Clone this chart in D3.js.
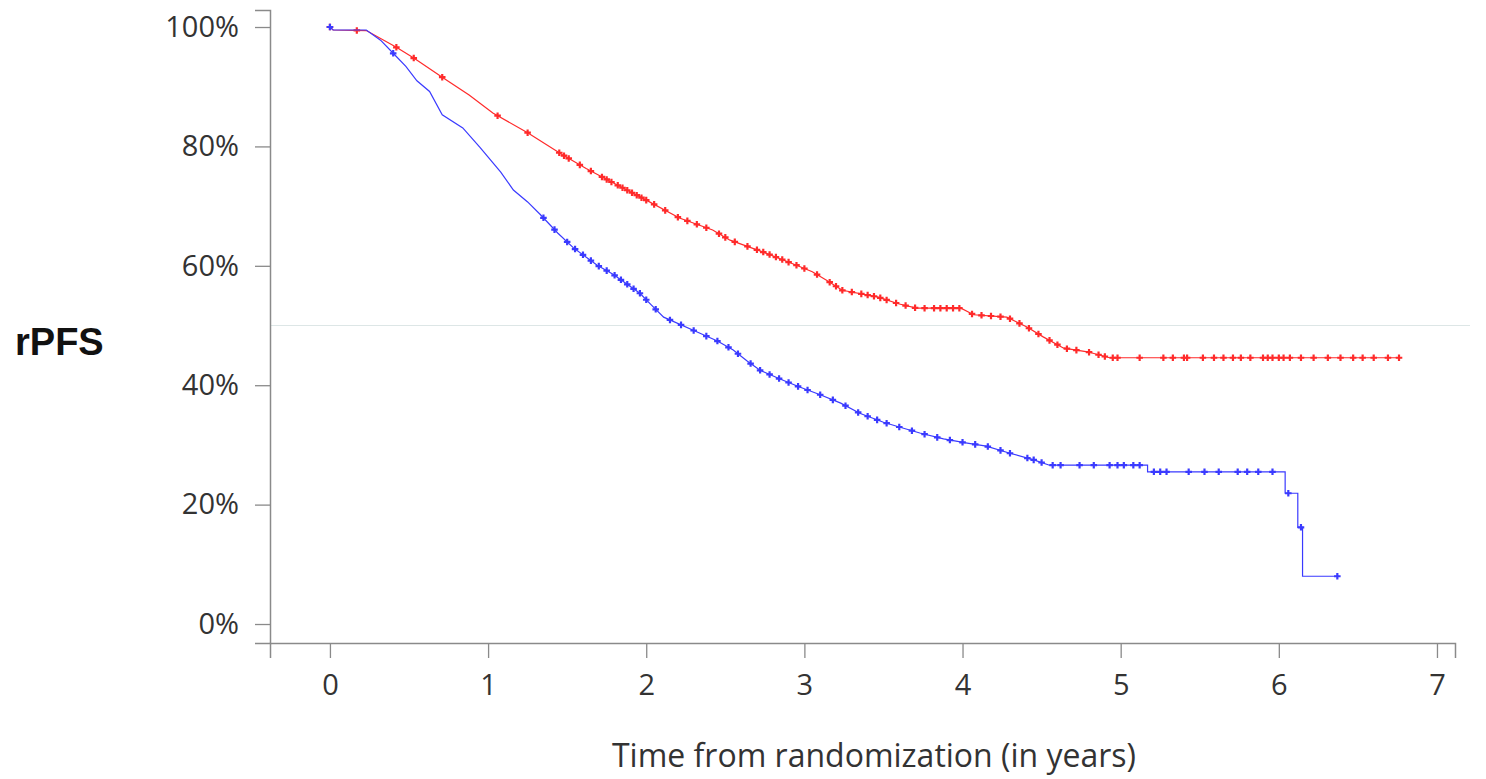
<!DOCTYPE html>
<html>
<head>
<meta charset="utf-8">
<script src="https://cdn.jsdelivr.net/npm/d3@7"></script>
<style>
  body { margin: 0; background: #fff; }
  svg { display: block; }
</style>
</head>
<body>
<div id="chart"></div>
<script>
// Kaplan-Meier curves: time (years) / survival (%)
const redTimes = [0, 0.02, 0.23, 0.42, 0.53, 0.71, 0.88, 1.03, 1.25, 1.47, 1.62, 1.79, 2.0, 2.21, 2.42, 2.53, 2.74, 2.95, 3.05, 3.14, 3.24, 3.46, 3.6, 3.71, 3.99, 4.07, 4.28, 4.41, 4.51, 4.64, 4.79, 4.93, 6.77];
const redSurv = [100, 99.5, 99.4, 96.6, 94.8, 91.6, 88.6, 85.6, 82.3, 78.6, 76.3, 73.9, 71.0, 68.0, 66.0, 64.3, 62.3, 60.1, 59.0, 57.6, 55.9, 54.8, 53.6, 52.9, 52.9, 51.8, 51.4, 49.7, 48.1, 46.2, 45.6, 44.6, 44.6];

const blueTimes = [0, 0.02, 0.23, 0.32, 0.40, 0.48, 0.55, 0.63, 0.71, 0.84, 0.95, 1.08, 1.16, 1.25, 1.33, 1.44, 1.54, 1.69, 1.79, 1.96, 2.03, 2.11, 2.34, 2.45, 2.55, 2.64, 2.72, 2.85, 2.97, 3.1, 3.23, 3.35, 3.5, 3.6, 3.73, 3.88, 4.03, 4.15, 4.3, 4.45, 4.55, 5.17, 5.17, 6.04, 6.04, 6.12, 6.12, 6.15, 6.15, 6.38];
const blueSurv = [100, 99.5, 99.5, 97.8, 95.6, 93.4, 91.0, 89.2, 85.3, 83.1, 79.8, 75.7, 72.7, 70.7, 68.6, 65.5, 63.0, 60.1, 58.6, 55.4, 53.5, 51.4, 48.7, 47.4, 45.9, 44.0, 42.5, 41.0, 39.7, 38.4, 37.0, 35.3, 33.8, 33.0, 32.0, 31.0, 30.3, 29.8, 28.6, 27.5, 26.6, 26.6, 25.5, 25.5, 21.9, 21.9, 16.2, 16.2, 8.0, 8.0];

// censoring times
const redCensor = [0, 0.17, 0.42, 0.53, 0.71, 1.06, 1.25, 1.45, 1.48, 1.51, 1.58, 1.65, 1.72, 1.75, 1.78, 1.82, 1.85, 1.88, 1.91, 1.94, 1.97, 2.0, 2.05, 2.12, 2.2, 2.26, 2.32, 2.38, 2.46, 2.5, 2.56, 2.64, 2.7, 2.74, 2.78, 2.82, 2.86, 2.9, 2.95, 3.0, 3.08, 3.16, 3.2, 3.24, 3.3, 3.36, 3.4, 3.44, 3.48, 3.52, 3.58, 3.64, 3.7, 3.76, 3.82, 3.86, 3.9, 3.94, 3.98, 4.06, 4.12, 4.18, 4.24, 4.3, 4.36, 4.42, 4.48, 4.55, 4.6, 4.66, 4.72, 4.8, 4.86, 4.9, 4.95, 4.98, 5.12, 5.27, 5.33, 5.4, 5.42, 5.52, 5.59, 5.65, 5.71, 5.76, 5.82, 5.9, 5.93, 5.96, 6.0, 6.03, 6.07, 6.14, 6.22, 6.31, 6.39, 6.47, 6.53, 6.6, 6.69, 6.76];
const blueCensor = [0, 0.4, 1.35, 1.42, 1.5, 1.55, 1.6, 1.65, 1.7, 1.75, 1.8, 1.84, 1.88, 1.92, 1.96, 2.0, 2.06, 2.15, 2.22, 2.3, 2.38, 2.45, 2.52, 2.58, 2.66, 2.72, 2.78, 2.84, 2.9, 2.96, 3.02, 3.1, 3.18, 3.26, 3.34, 3.4, 3.46, 3.52, 3.6, 3.68, 3.76, 3.84, 3.92, 4.0, 4.08, 4.16, 4.24, 4.3, 4.41, 4.45, 4.5, 4.57, 4.62, 4.74, 4.83, 4.93, 4.98, 5.02, 5.08, 5.12, 5.21, 5.25, 5.29, 5.43, 5.53, 5.62, 5.74, 5.8, 5.87, 5.96, 6.06, 6.14, 6.37];

const xTicks = [0, 1, 2, 3, 4, 5, 6, 7];
const yTicks = [0, 20, 40, 60, 80, 100];
const refLevel = 50;

const width = 1486, height = 779;
const tickFont = '"Open Sans", Lato, sans-serif';

const svg = d3.select('#chart').append('svg').attr('width', width).attr('height', height);

const x = d3.scaleLinear().domain([-0.379, 7.114]).range([270, 1455]);
const y = d3.scaleLinear().domain([-3.18, 102.85]).range([643, 10]);

// 50% reference line
svg.append('line')
  .attr('x1', 270).attr('x2', 1470)
  .attr('y1', y(refLevel)).attr('y2', y(refLevel))
  .attr('stroke', '#dde6e6').attr('stroke-width', 1.2);

// axes
const xAxis = svg.append('g').attr('transform', `translate(0,${y.range()[0]})`)
  .call(d3.axisBottom(x).tickValues(xTicks).tickFormat(d3.format('d')).tickSize(15).tickPadding(16));
const yAxis = svg.append('g').attr('transform', `translate(${x.range()[0]},0)`)
  .call(d3.axisLeft(y).tickValues(yTicks).tickFormat(d => d + '%').tickSize(15).tickPadding(16));

[xAxis, yAxis].forEach(g => {
  g.select('.domain').attr('stroke', '#8a8a8a').attr('stroke-width', 1.5);
  g.selectAll('.tick line').attr('stroke', '#8a8a8a').attr('stroke-width', 1.3);
  g.selectAll('.tick text').attr('fill', '#333').style('font-family', tickFont).style('font-size', '29px');
});

// curves
const series = [
  { times: redTimes, surv: redSurv, censor: redCensor, color: '#ff2a2a' },
  { times: blueTimes, surv: blueSurv, censor: blueCensor, color: '#3a3aff' }
];

const line = d3.line().x(d => x(d[0])).y(d => y(d[1]));

series.forEach(s => {
  const pts = s.times.map((t, i) => [t, s.surv[i]]);
  svg.append('path').datum(pts)
    .attr('d', line)
    .attr('fill', 'none')
    .attr('stroke', s.color)
    .attr('stroke-width', 1.2);

  const atTime = d3.scaleLinear().domain(s.times).range(s.surv).clamp(true);
  svg.append('g').selectAll('path').data(s.censor).enter().append('path')
    .attr('d', d3.symbol(d3.symbolCross, 24))
    .attr('transform', d => `translate(${x(d)},${y(atTime(d))})`)
    .attr('fill', s.color);
});

// labels
svg.append('text')
  .attr('x', 15).attr('y', 355)
  .style('font-family', '"Liberation Sans", Arial, sans-serif')
  .style('font-weight', 'bold')
  .style('font-size', '38px')
  .attr('fill', '#111')
  .text('rPFS');

svg.append('text')
  .attr('x', 874).attr('y', 767)
  .attr('text-anchor', 'middle')
  .style('font-family', tickFont)
  .style('font-size', '32px')
  .attr('fill', '#333')
  .text('Time from randomization (in years)');
</script>
</body>
</html>
